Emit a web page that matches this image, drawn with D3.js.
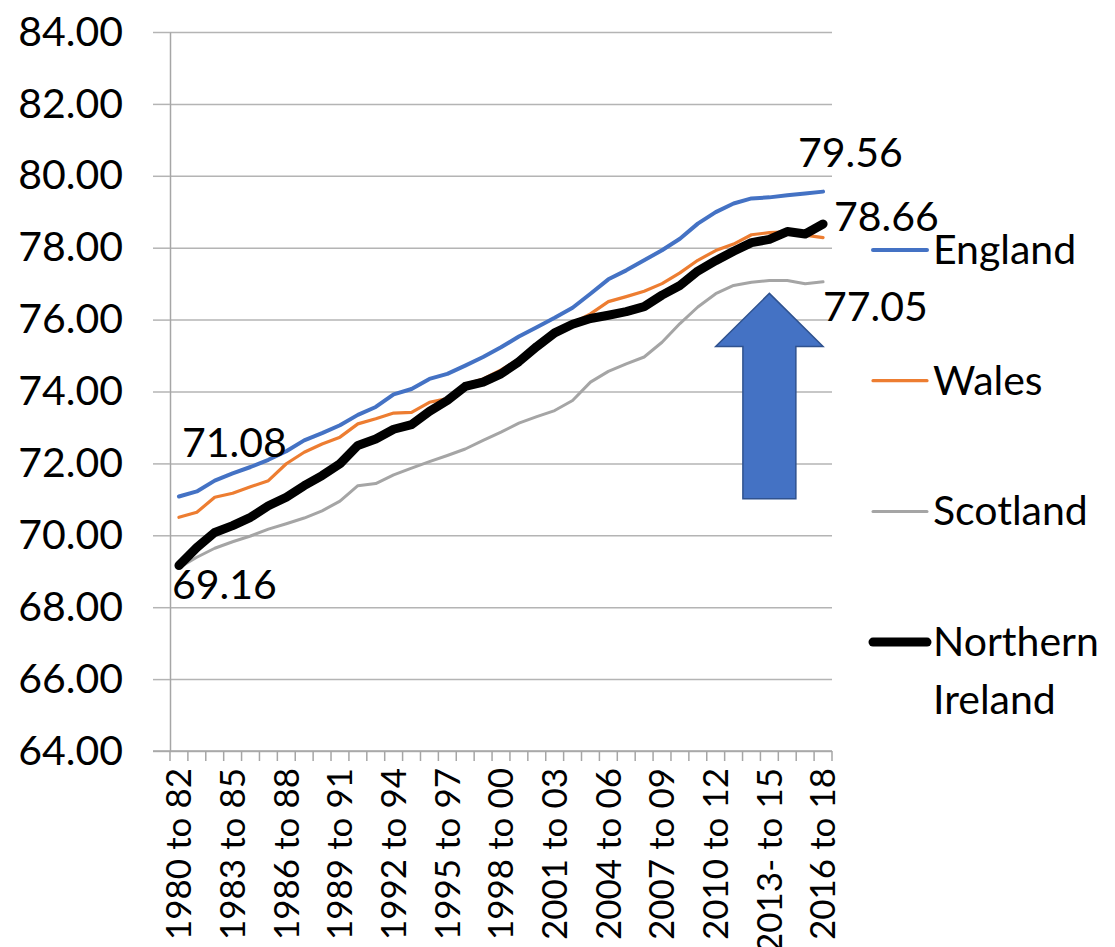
<!DOCTYPE html>
<html>
<head>
<meta charset="utf-8">
<script src="https://cdn.jsdelivr.net/npm/d3@7"></script>
<style>
  body { margin: 0; background: #fff; }
  text { font-family: Lato, "Open Sans", sans-serif; fill: #000; }
</style>
</head>
<body>
<div id="chart"></div>
<script>
//constants
const width = 1115;
const height = 947;
const margin = { top: 32, bottom: 196, left: 170, right: 283 };

//data
const categories = [
  "1980 to 82", "1981 to 83", "1982 to 84", "1983 to 85", "1984 to 86", "1985 to 87",
  "1986 to 88", "1987 to 89", "1988 to 90", "1989 to 91", "1990 to 92", "1991 to 93",
  "1992 to 94", "1993 to 95", "1994 to 96", "1995 to 97", "1996 to 98", "1997 to 99",
  "1998 to 00", "1999 to 01", "2000 to 02", "2001 to 03", "2002 to 04", "2003 to 05",
  "2004 to 06", "2005 to 07", "2006 to 08", "2007 to 09", "2008 to 10", "2009 to 11",
  "2010 to 12", "2011 to 13", "2012 to 14", "2013- to 15", "2014 to 16", "2015 to 17",
  "2016 to 18"
];

const england = [71.08, 71.22, 71.52, 71.72, 71.90, 72.10, 72.34, 72.64, 72.84, 73.06,
  73.35, 73.57, 73.92, 74.07, 74.35, 74.49, 74.72, 74.96, 75.23, 75.53, 75.79, 76.05,
  76.33, 76.72, 77.12, 77.37, 77.65, 77.93, 78.25, 78.67, 78.99, 79.23, 79.37, 79.40,
  79.46, 79.51, 79.56];

const wales = [70.50, 70.64, 71.06, 71.17, 71.35, 71.52, 71.99, 72.31, 72.54, 72.73,
  73.10, 73.24, 73.40, 73.42, 73.70, 73.80, 74.20, 74.35, 74.60, 74.90, 75.30, 75.68,
  75.90, 76.16, 76.50, 76.64, 76.79, 77.00, 77.30, 77.65, 77.92, 78.10, 78.36, 78.42,
  78.44, 78.35, 78.28];

const scotland = [69.10, 69.39, 69.64, 69.82, 69.98, 70.17, 70.32, 70.48, 70.68, 70.95,
  71.38, 71.44, 71.68, 71.87, 72.05, 72.22, 72.40, 72.64, 72.87, 73.12, 73.30, 73.47,
  73.75, 74.26, 74.56, 74.77, 74.96, 75.37, 75.89, 76.35, 76.72, 76.95, 77.04, 77.09,
  77.09, 77.00, 77.05];

const nireland = [69.16, 69.66, 70.08, 70.27, 70.50, 70.82, 71.06, 71.38, 71.66, 71.99,
  72.50, 72.68, 72.95, 73.08, 73.45, 73.75, 74.14, 74.26, 74.49, 74.83, 75.25, 75.63,
  75.87, 76.03, 76.12, 76.22, 76.36, 76.68, 76.95, 77.35, 77.64, 77.90, 78.14, 78.23,
  78.45, 78.38, 78.66];

const yTicks = [64, 66, 68, 70, 72, 74, 76, 78, 80, 82, 84];

const series = [
  { name: "England", values: england, color: "#4472C4", width: 4 },
  { name: "Wales", values: wales, color: "#ED7D31", width: 3.2 },
  { name: "Scotland", values: scotland, color: "#A5A5A5", width: 3 },
  { name: "Northern Ireland", values: nireland, color: "#000000", width: 9 },
];

// labels on first / last points: [series index, point index, dx, dy]
const pointLabels = [
  [0, 0, 3, -39],
  [3, 0, -7, 34],
  [0, 36, -25, -25],
  [3, 36, 11, 7],
  [2, 36, 0, 39],
];

// block arrow, in data units (category index, values, half widths in categories)
const arrow = { at: 33, tip: 76.73, head: 75.25, base: 71.02, headHalf: 3.0, shaftHalf: 1.48 };

//scales
const x = d3.scaleBand().domain(categories).range([margin.left, width - margin.right]);
const y = d3.scaleLinear().domain([64, 84]).range([height - margin.bottom, margin.top]);
const cx = (i) => x(categories[i]) + x.bandwidth() / 2;

const svg = d3.select("#chart").append("svg")
  .attr("width", width)
  .attr("height", height);

//gridlines
svg.append("g")
  .attr("transform", `translate(${margin.left},0)`)
  .call(d3.axisLeft(y).tickValues(yTicks).tickSize(-(width - margin.left - margin.right)).tickFormat(""))
  .call((g) => g.select(".domain").remove())
  .call((g) => g.selectAll(".tick line").attr("stroke", "#b4b4b4").attr("stroke-width", 1.5));

//y axis
svg.append("g")
  .attr("transform", `translate(${margin.left},0)`)
  .call(d3.axisLeft(y).tickValues(yTicks).tickSizeInner(17).tickSizeOuter(0).tickPadding(30).tickFormat(d3.format(".2f")))
  .call((g) => g.select(".domain").attr("stroke", "#a6a6a6").attr("stroke-width", 1.5))
  .call((g) => g.selectAll(".tick line").attr("stroke", "#b4b4b4").attr("stroke-width", 1.5))
  .call((g) => g.selectAll(".tick text").attr("font-size", 41).attr("font-family", "Lato"));

//x axis
const xg = svg.append("g")
  .attr("transform", `translate(0,${height - margin.bottom})`)
  .call(d3.axisBottom(x).tickSize(0).tickPadding(0).tickFormat((d, i) => (i % 3 === 0 ? d : "")))
  .call((g) => g.select(".domain").remove());

xg.selectAll(".tick text")
  .attr("font-size", 35)
  .attr("font-family", "Lato")
  .attr("transform", "rotate(-90)")
  .attr("text-anchor", "end")
  .attr("x", -17)
  .attr("y", 0)
  .attr("dy", "0.35em");

xg.append("line")
  .attr("x1", margin.left - 17)
  .attr("x2", width - margin.right)
  .attr("stroke", "#a6a6a6")
  .attr("stroke-width", 1.5);

xg.selectAll(".cat-tick")
  .data(categories.concat([null]))
  .join("line")
  .attr("class", "cat-tick")
  .attr("x1", (d, i) => (d ? x(d) : x(categories[i - 1]) + x.bandwidth()))
  .attr("x2", (d, i) => (d ? x(d) : x(categories[i - 1]) + x.bandwidth()))
  .attr("y1", 0)
  .attr("y2", 10)
  .attr("stroke", "#a6a6a6")
  .attr("stroke-width", 1.5);

//lines
const line = d3.line()
  .x((d, i) => cx(i))
  .y((d) => y(d));

svg.selectAll(".series")
  .data(series)
  .join("path")
  .attr("class", "series")
  .attr("fill", "none")
  .attr("stroke", (d) => d.color)
  .attr("stroke-width", (d) => d.width)
  .attr("stroke-linejoin", "round")
  .attr("stroke-linecap", "round")
  .attr("d", (d) => line(d.values));

//arrow annotation
const ax = cx(arrow.at);
const bw = x.bandwidth();
const arrowPts = [
  [ax, y(arrow.tip)],
  [ax + arrow.headHalf * bw, y(arrow.head)],
  [ax + arrow.shaftHalf * bw, y(arrow.head)],
  [ax + arrow.shaftHalf * bw, y(arrow.base)],
  [ax - arrow.shaftHalf * bw, y(arrow.base)],
  [ax - arrow.shaftHalf * bw, y(arrow.head)],
  [ax - arrow.headHalf * bw, y(arrow.head)],
];
svg.append("path")
  .attr("d", d3.line()(arrowPts) + "Z")
  .attr("fill", "#4472C4")
  .attr("stroke", "#2F528F")
  .attr("stroke-width", 1.5);

//data labels
svg.selectAll(".pt-label")
  .data(pointLabels)
  .join("text")
  .attr("class", "pt-label")
  .attr("x", (d) => cx(d[1]) + d[2])
  .attr("y", (d) => y(series[d[0]].values[d[1]]) + d[3])
  .attr("font-size", 41)
  .text((d) => series[d[0]].values[d[1]].toFixed(2));

//legend
const legend = svg.append("g").attr("transform", `translate(${width - margin.right + 41}, 250)`);
const item = legend.selectAll(".item")
  .data(series)
  .join("g")
  .attr("class", "item")
  .attr("transform", (d, i) => `translate(0, ${i * 130.7})`);

item.append("line")
  .attr("x1", 0)
  .attr("x2", 54)
  .attr("stroke", (d) => d.color)
  .attr("stroke-width", (d) => d.width)
  .attr("stroke-linecap", "round");

item.append("text")
  .attr("x", 60)
  .attr("font-size", 41)
  .selectAll("tspan")
  .data((d) => d.name.split(" "))
  .join("tspan")
  .attr("x", 60)
  .attr("y", (d, i) => 14 + i * 58)
  .text((d) => d);
</script>
</body>
</html>
